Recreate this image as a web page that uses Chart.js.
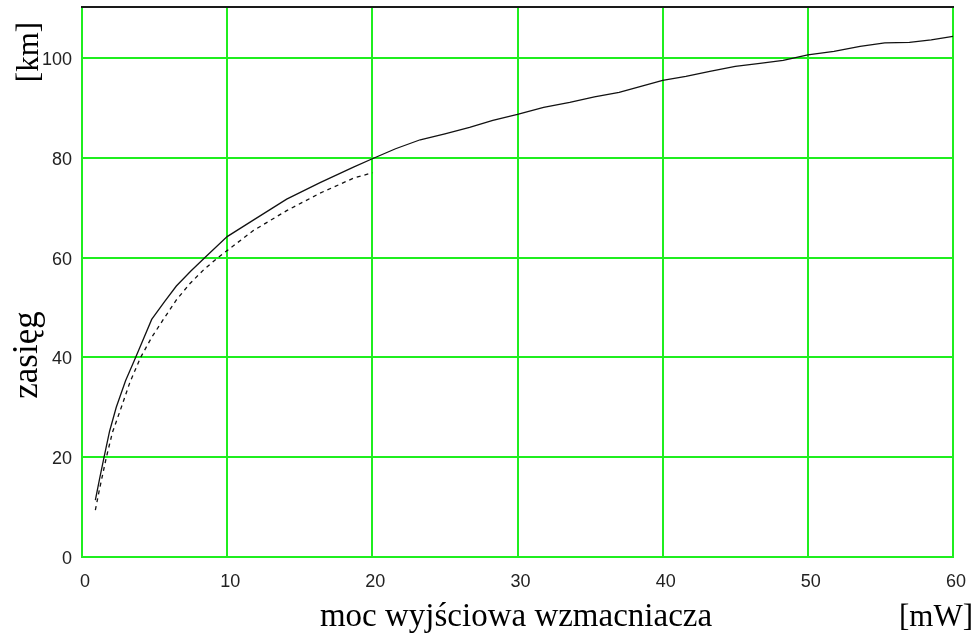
<!DOCTYPE html>
<html>
<head>
<meta charset="utf-8">
<script src="https://cdn.jsdelivr.net/npm/chart.js@4.4.1/dist/chart.umd.min.js"></script>
<style>
html,body{margin:0;padding:0;background:#fff;}
#wrap{position:relative;width:975px;height:637px;}
</style>
</head>
<body>
<div id="wrap"><canvas id="c" width="975" height="637"></canvas></div>
<script>
// Data
const solidX = [0.92,1.2,1.52,1.9,2.36,3.0,3.7,4.8,5.7,6.5,7.5,8.47,10,11.8,14.1,16.4,18.7,20,21.6,23.3,25,26.7,28.3,30,31.8,33.6,35.3,37,38.5,40,41.6,43.25,45,46.7,48.3,50,51.8,53.6,55.3,57,58.5,60];
const solidY = [11.4,15.5,20,25.2,30,35.3,40,47.6,51.2,54.3,57.3,60,64.2,67.5,71.7,75,78.1,79.8,81.8,83.6,84.8,86.1,87.5,88.7,90.1,91.1,92.2,93.1,94.3,95.5,96.3,97.3,98.3,98.9,99.5,100.6,101.3,102.3,103,103.1,103.6,104.3];
const dashX = [0.92,1.2,1.68,2.1,2.71,3.3,4.04,4.8,5.58,6.5,7.44,8.4,9.37,10,11.8,14.1,16.4,18.7,20];
const dashY = [9.4,13.5,20,25,30,35,40,44,47.5,51.5,54.8,57.6,60,61.4,65.4,69.4,72.9,75.9,77.0];
const xTicks = [0,10,20,30,40,50,60];
const yTicks = [0,20,40,60,80,100];
const xTitle = 'moc wyjściowa wzmacniacza';
const xUnit = '[mW]';
const yTitle = 'zasięg';
const yUnit = '[km]';

const GREEN = '#1fee1f';
const toPts = (xs, ys) => xs.map((x, i) => ({x: x, y: ys[i]}));

const titlesPlugin = {
  id: 'titles',
  afterDraw(chart) {
    const ctx = chart.ctx;
    const a = chart.chartArea;
    ctx.save();
    // top border
    ctx.strokeStyle = '#1a1a1a';
    ctx.lineWidth = 2;
    ctx.beginPath();
    ctx.moveTo(a.left - 1, a.top);
    ctx.lineTo(a.right + 1, a.top);
    ctx.stroke();
    ctx.fillStyle = '#000';
    ctx.textBaseline = 'alphabetic';
    // x title
    ctx.font = '33px "Liberation Serif", "Times New Roman", serif';
    ctx.textAlign = 'center';
    ctx.fillText(xTitle, 516, 626);
    // x unit
    ctx.font = '31px "Liberation Serif", "Times New Roman", serif';
    ctx.textAlign = 'right';
    ctx.fillText(xUnit, 973, 626);
    // y title
    ctx.save();
    ctx.translate(37, 355);
    ctx.rotate(-Math.PI / 2);
    ctx.font = '35px "Liberation Serif", "Times New Roman", serif';
    ctx.textAlign = 'center';
    ctx.fillText(yTitle, 0, 0);
    ctx.restore();
    // y unit
    ctx.save();
    ctx.translate(38, 52);
    ctx.rotate(-Math.PI / 2);
    ctx.font = '31px "Liberation Serif", "Times New Roman", serif';
    ctx.textAlign = 'center';
    ctx.fillText(yUnit, 0, 0);
    ctx.restore();
    ctx.restore();
  }
};

new Chart(document.getElementById('c'), {
  type: 'scatter',
  data: {
    datasets: [
      {
        data: toPts(solidX, solidY),
        showLine: true,
        borderColor: '#111',
        borderWidth: 1.3,
        pointRadius: 0,
        tension: 0,
        fill: false
      },
      {
        data: toPts(dashX, dashY),
        showLine: true,
        borderColor: '#111',
        borderWidth: 1.3,
        borderDash: [4, 4],
        pointRadius: 0,
        tension: 0,
        fill: false
      }
    ]
  },
  options: {
    responsive: false,
    animation: false,
    devicePixelRatio: 1,
    layout: {padding: {top: 7, right: 22, left: 0, bottom: 0}},
    plugins: {legend: {display: false}, tooltip: {enabled: false}},
    scales: {
      x: {
        type: 'linear',
        min: 0, max: 60,
        afterFit(s) { s.height = 80; s.paddingLeft = 0; s.paddingRight = 0; },
        afterBuildTicks(s) { s.ticks = xTicks.map(v => ({value: v})); },
        grid: {color: GREEN, lineWidth: 2, drawTicks: false},
        border: {color: GREEN, width: 2},
        ticks: {
          padding: 14,
          labelOffset: 3,
          color: '#222',
          font: {family: '"Liberation Sans", Arial, sans-serif', size: 18},
          maxRotation: 0,
          autoSkip: false
        }
      },
      y: {
        type: 'linear',
        min: 0, max: 110.2,
        afterFit(s) { s.width = 82; s.paddingTop = 0; s.paddingBottom = 0; },
        afterBuildTicks(s) { s.ticks = yTicks.map(v => ({value: v})); },
        grid: {color: GREEN, lineWidth: 2, drawTicks: false},
        border: {color: GREEN, width: 2},
        ticks: {
          padding: 10,
          labelOffset: 2,
          color: '#222',
          font: {family: '"Liberation Sans", Arial, sans-serif', size: 18},
          autoSkip: false
        }
      }
    }
  },
  plugins: [titlesPlugin]
});
</script>
</body>
</html>
